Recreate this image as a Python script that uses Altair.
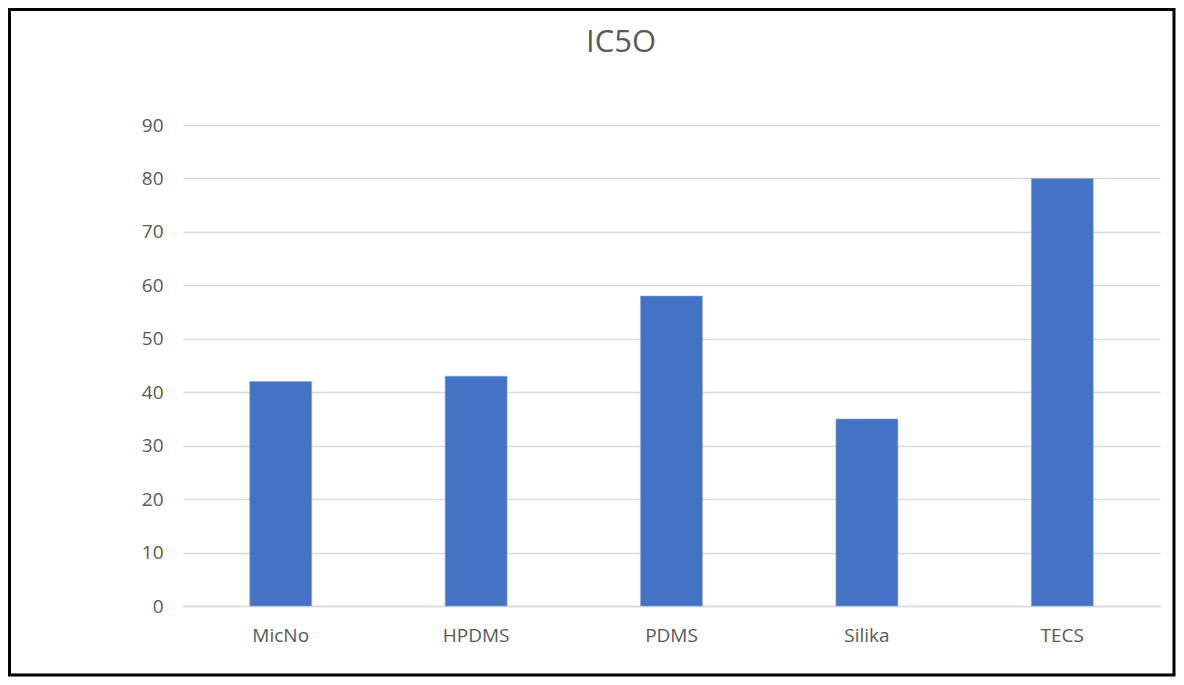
import altair as alt
import pandas as pd

categories = ["MicNo", "HPDMS", "PDMS", "Silika", "TECS"]
values = [42, 43, 58, 35, 80]
y_ticks = [0, 10, 20, 30, 40, 50, 60, 70, 80, 90]
title_text = "IC5O"

df = pd.DataFrame({"cat": categories, "val": values})

FONT = "Open Sans"
PLOT_W = 977
PLOT_H = 481

bars = alt.Chart(df).mark_bar(color="#4472C4", stroke="#8faadc", strokeWidth=0.6).encode(
    x=alt.X("cat:N", sort=categories, title=None,
            scale=alt.Scale(paddingInner=0.683, paddingOuter=0.3415),
            axis=alt.Axis(labelAngle=0, ticks=False, domain=True, domainColor="#d9d9d9",
                          domainWidth=1.5, labelPadding=20, labelFontSize=19,
                          labelColor="#595959", labelFont=FONT)),
    y=alt.Y("val:Q", title=None,
            scale=alt.Scale(domain=[0, 90], nice=False),
            axis=alt.Axis(values=y_ticks, ticks=False, domain=False, grid=True,
                          gridColor="#d9d9d9", gridWidth=1.5, labelPadding=20,
                          labelFontSize=19, labelColor="#595959", labelFont=FONT)),
)

one = pd.DataFrame({"t": [title_text]})

border = alt.Chart(one).mark_rect(
    fill=None, stroke="black", strokeWidth=3
).encode(
    x=alt.value(-173.5), x2=alt.value(991),
    y=alt.value(-115.5), y2=alt.value(550),
)

title = alt.Chart(one).mark_text(
    font=FONT, fontSize=31, color="#595959", align="center", baseline="alphabetic"
).encode(
    text="t:N", x=alt.value(438), y=alt.value(-73),
)

chart = alt.layer(bars, border, title).properties(
    width=PLOT_W,
    height=PLOT_H,
    autosize=alt.AutoSizeParams(type="none"),
    padding={"left": 175, "top": 117, "right": 16, "bottom": 71},
).configure_view(stroke=None)

chart.save("out.html", embed_options={"renderer": "svg", "actions": False})
